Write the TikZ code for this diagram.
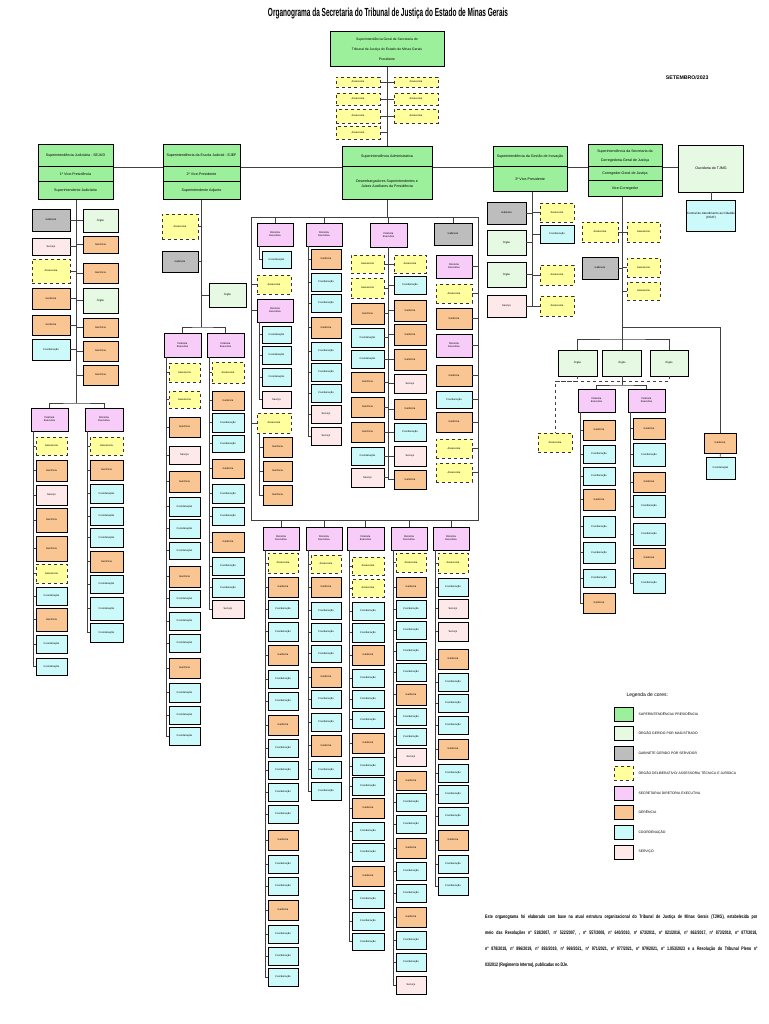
\documentclass[tikz,border=0pt]{standalone}
\usepackage{fontspec}
\setmainfont{Liberation Sans}
\usepackage{graphicx}
\definecolor{supgreen}{HTML}{9CF09C}
\definecolor{maggreen}{HTML}{E6F9E3}
\definecolor{gabgray}{HTML}{BDBDBD}
\definecolor{aseyellow}{HTML}{FFFF9E}
\definecolor{secpink}{HTML}{F8CCF8}
\definecolor{gerorange}{HTML}{F9C592}
\definecolor{coocyan}{HTML}{CCF9F9}
\definecolor{serrose}{HTML}{FDE9E9}

% short labels of the small boxes, one per kind
\newcommand{\lblsup}{Superintendência}
\newcommand{\lblmag}{Órgão}
\newcommand{\lblgab}{Gabinete}
\newcommand{\lblase}{Assessoria}
\newcommand{\lblsec}{Diretoria\\Executiva}
\newcommand{\lblger}{Gerência}
\newcommand{\lblcoo}{Coordenação}
\newcommand{\lblser}{Serviço}

% one column of boxes hanging off a vertical line
\newcommand{\orgcolumn}[6]{%
  \coordinate (#1-0) at (#4 |- #5.south);
  \foreach \kind/\ytop/\ybot [count=\n, remember=\n as \m (initially 0)] in {#6}{%
    \node[\kind, minimum width=#3-#2, minimum height=\ybot-\ytop]
      (#1-\n) at ({(#2+#3)/2},{(\ybot+\ytop)/2}) {\csname lbl\kind\endcsname};
    \draw[link] (#4 |- #1-\m) -- (#4 |- #1-\n) -- (#1-\n);
  }}

\begin{document}
\begin{tikzpicture}[x=1pt, y=-1pt,
  every node/.style={font=\fontsize{2.6}{3}\selectfont},
  link/.style={draw=black!75, line width=0.7pt},
  box/.style={draw=black, line width=0.8pt, inner sep=0.3pt, align=center},
  sup/.style={box, fill=supgreen, line width=1pt},
  mag/.style={box, fill=maggreen},
  gab/.style={box, fill=gabgray},
  ase/.style={box, fill=aseyellow, dashed, draw=black!80},
  sec/.style={box, fill=secpink},
  ger/.style={box, fill=gerorange},
  coo/.style={box, fill=coocyan},
  ser/.style={box, fill=serrose},
  head/.style={font=\fontsize{3.6}{4.6}\selectfont},
]
\useasboundingbox (0,0) rectangle (768,1024);

% Title
\node (title) at (388,13) {\resizebox{240pt}{8.5pt}{\bfseries Organograma da Secretaria do Tribunal de Justiça do Estado de Minas Gerais}};
\node[anchor=east, font=\bfseries\fontsize{5.2}{6}\selectfont] (date) at (712,78) {SETEMBRO/2023};

% Presidency
\node[sup, minimum width=114, minimum height=35, font=\fontsize{3.4}{10}\selectfont] (pres) at (387,49.5)
  {Superintendência Geral da Secretaria do\\Tribunal de Justiça do Estado de Minas Gerais\\Presidente};

% Superintendencies
\node[sup, head, minimum width=75, minimum height=22] (sejud) at (75.5,156) {Superintendência Judiciária - SEJUD};
\node[sup, head, minimum width=75, minimum height=15] (vp1) at (75.5,174.5) {1º Vice-Presidência};
\node[sup, head, minimum width=75, minimum height=18] (supjud) at (75.5,191) {Superintendente Judiciário};

\node[sup, head, minimum width=77, minimum height=22] (ejef) at (201.5,156) {Superintendência da Escola Judicial - EJEF};
\node[sup, head, minimum width=77, minimum height=15] (vp2) at (201.5,174.5) {2º Vice-Presidente};
\node[sup, head, minimum width=77, minimum height=18] (supadj) at (201.5,191) {Superintendente Adjunto};

\node[sup, head, minimum width=90, minimum height=20] (adm) at (387,157) {Superintendência Administrativa};
\node[sup, head, minimum width=90, minimum height=33] (desemb) at (387,183.5) {Desembargadores Superintendentes e\\Juízes Auxiliares da Presidência};

\node[sup, head, minimum width=74, minimum height=20] (inov) at (530,157) {Superintendência da Gestão de Inovação};
\node[sup, head, minimum width=74, minimum height=25] (vp3) at (530,179.5) {3º Vice-Presidente};

\node[sup, head, font=\fontsize{3.6}{9}\selectfont, minimum width=74, minimum height=22] (scgj) at (625,156) {Superintendência da Secretaria da\\Corregedoria-Geral de Justiça};
\node[sup, head, minimum width=74, minimum height=14] (cgj) at (625,174) {Corregedor-Geral de Justiça};
\node[sup, head, minimum width=74, minimum height=16] (vcg) at (625,189) {Vice-Corregedor};

\node[mag, head, minimum width=65, minimum height=47] (ouv) at (711,168.5) {Ouvidoria do TJMG};
\node[coo, font=\fontsize{3}{4}\selectfont, minimum width=49, minimum height=31] (ceat) at (711,215.5) {Central de Atendimento ao Cidadão\\(CEAT)};

% Main bar
\draw[link] (pres) -- (adm);
\draw[link] (sejud.south east) -- (ejef.south west);
\draw[link] (ejef.south east) -- (adm.south west);
\draw[link] (adm.south east) -- (inov.south west);
\draw[link] (inov.south east) -- (scgj.south west);
\draw[link] (scgj.south east) -- (ouv.west |- scgj.south east);
\draw[link] (ouv) -- (ceat);

% Committees round the presidency
\coordinate (tP) at (387,0);
\orgcolumn{pl}{336}{380}{tP}{pres}{ase/77/87, ase/93/105, ase/109/123, ase/126/139}
\orgcolumn{pr}{394}{438}{tP}{pres}{ase/77/87, ase/93/105, ase/109/123}

% SEJUD
\coordinate (tA) at (76.5,0);
\orgcolumn{sl}{32}{70}{tA}{supjud}{gab/209/231, ser/238/255, ase/259/283, ger/288/309, ger/315/335, coo/339/360}
\orgcolumn{sr}{83}{118}{tA}{supjud}{mag/209/232, ger/236/253, ger/263/283, mag/288/313, ger/318/337, ger/341/361, ger/365/385}
\coordinate (sjSplit) at (76.5,403);
\draw[link] (tA |- sr-7) -- (sjSplit);
\node[sec, minimum width=37, minimum height=23] (F1) at (49.5,419.5) {\lblsec};
\node[sec, minimum width=38, minimum height=23] (F2) at (104,419.5) {\lblsec};
\draw[link] (F1) |- (sjSplit) -| (F2);
\coordinate (tF1) at (33,0);
\coordinate (tF2) at (87,0);
\orgcolumn{fa}{36}{67}{tF1}{F1}{ase/437/455, ger/460/481, ser/485/505, ger/508/532, ger/536/561, ase/564/583, coo/587/605, ger/608/631, coo/635/653, coo/658/675}
\orgcolumn{fb}{90}{123}{tF2}{F2}{ase/437/455, ger/460/480, coo/484/503, coo/507/525, coo/528/547, ger/551/572, coo/575/593, coo/597/620, coo/623/642}

% EJEF
\coordinate (tB) at (201.5,0);
\orgcolumn{jl}{162}{198}{tB}{supadj}{ase/214/239, gab/251/272}
\orgcolumn{jr}{209}{246}{tB}{supadj}{mag/283/307}
\coordinate (ejSplit) at (201.5,327);
\draw[link] (tB |- jr-1) -- (ejSplit);
\node[sec, minimum width=37, minimum height=24] (G1) at (182.5,345) {\lblsec};
\node[sec, minimum width=37, minimum height=24] (G2) at (225.5,345) {\lblsec};
\draw[link] (G1) |- (ejSplit) -| (G2);
\coordinate (tG1) at (166,0);
\coordinate (tG2) at (209,0);
\orgcolumn{ga}{169}{200}{tG1}{G1}{ase/363/382, ase/391/408, ger/417/437, ser/446/464, ger/471/492, coo/497/516, coo/519/538, coo/542/559, ger/566/587, coo/590/607, coo/612/630, coo/634/652, ger/658/678, coo/683/702, coo/706/724, coo/727/745}
\orgcolumn{gb}{212}{244}{tG2}{G2}{ase/362/383, ger/391/410, coo/413/432, coo/435/452, ger/459/478, coo/484/503, coo/507/525, ger/532/552, coo/557/575, coo/578/597, ser/600/618}

% Administrative frame
\coordinate (fTL) at (251,217);
\coordinate (fTR) at (478,217);
\coordinate (fBR) at (478,520);
\coordinate (fBL) at (251,520);
\draw[link] (fTL) -- (fTR) -- (fBR) -- (fBL) -- cycle;
\draw[link] (desemb) -- (desemb |- fTL);
\node[sec, minimum width=36, minimum height=23] (E1) at (275,234.5) {\lblsec};
\node[sec, minimum width=36, minimum height=23] (E2) at (324,234.5) {\lblsec};
\node[sec, minimum width=37, minimum height=24] (E3) at (388.5,235) {\lblsec};
\node[gab, minimum width=38, minimum height=22] (E4) at (453,234) {\lblgab};
\foreach \e in {E1,E2,E3,E4} \draw[link] (\e) -- (\e |- fTL);
\node[ase, minimum width=34, minimum height=19] (aspre) at (274,284.5) {\lblase};
\node[sec, minimum width=36, minimum height=23] (E1b) at (275,310.5) {\lblsec};
\node[ase, minimum width=34, minimum height=20] (E1c) at (274,423) {\lblase};
\foreach \e in {aspre,E1b,E1c} \draw[link] (\e) -- (fTL |- \e);
\coordinate (tE1) at (259,0);
\orgcolumn{ea}{262}{291}{tE1}{E1}{coo/251/268}
\orgcolumn{eb}{262}{291}{tE1}{E1b}{coo/326/343, coo/346/364, coo/368/386, ser/391/408}
\orgcolumn{ec}{263}{292}{tE1}{E1c}{ger/437/457, ger/461/481, ger/485/505}
\coordinate (tE2) at (308,0);
\orgcolumn{ed}{311}{341}{tE2}{E2}{ger/249/269, coo/273/291, coo/294/312, ger/317/338, coo/342/360, coo/363/381, coo/384/402, ser/405/423, ser/427/445}
\coordinate (tE3) at (388.5,0);
\orgcolumn{ee}{351}{384}{tE3}{E3}{ase/255/273, ase/278/298, ger/303/324, coo/328/347, coo/350/368, ger/372/392, ger/397/417, ger/422/442, coo/447/465, ser/468/487}
\orgcolumn{ef}{394}{426}{tE3}{E3}{ase/255/273, coo/276/294, ger/300/321, ger/324/345, ger/349/370, ser/374/393, ger/399/419, coo/423/441, ser/446/466, ger/470/489}
\orgcolumn{eg}{436}{472}{fTR}{E4}{sec/255/278, ase/284/303, ger/308/329, sec/334/357, ger/365/386, coo/391/408, ger/412/432, ase/439/458, ase/463/482}

% Directorates below the frame
\node[sec, minimum width=36, minimum height=23] (D1) at (281,538.5) {\lblsec};
\node[sec, minimum width=36, minimum height=23] (D2) at (324,538.5) {\lblsec};
\node[sec, minimum width=37, minimum height=23] (D3) at (365.5,538.5) {\lblsec};
\node[sec, minimum width=36, minimum height=23] (D4) at (409,538.5) {\lblsec};
\node[sec, minimum width=36, minimum height=23] (D5) at (451,538.5) {\lblsec};
\foreach \d in {D1,D2,D3,D4,D5} \draw[link] (\d) -- (\d |- fBL);
\coordinate (tD1) at (265,0);
\coordinate (tD2) at (308,0);
\coordinate (tD3) at (349,0);
\coordinate (tD4) at (393,0);
\coordinate (tD5) at (435,0);
\orgcolumn{da}{268}{298}{tD1}{D1}{ase/553/573, ger/577/597, coo/600/618, coo/622/641, ger/645/665, coo/670/688, coo/692/710, ger/715/735, coo/739/757, coo/761/779, coo/783/801, coo/805/823, ger/830/850, coo/855/873, coo/877/895, ger/900/920, coo/925/943, coo/947/965, coo/968/986}
\orgcolumn{db}{311}{341}{tD2}{D2}{ase/555/573, ger/577/597, coo/602/619, coo/623/641, coo/645/662, ger/667/687, coo/690/708, coo/713/731, ger/735/756, coo/761/778, coo/782/800}
\orgcolumn{dc}{352}{384}{tD3}{D3}{ase/557/575, ase/579/597, coo/602/620, coo/623/642, ger/645/665, coo/669/687, coo/690/708, coo/711/728, ger/733/753, coo/757/775, coo/777/795, ger/798/818, coo/822/840, coo/843/861, ger/866/886, coo/890/908, coo/912/930, coo/933/950}
\orgcolumn{dd}{396}{426}{tD4}{D4}{ase/553/572, ger/577/597, coo/600/618, coo/621/639, coo/642/660, coo/663/681, ger/684/705, coo/708/725, coo/728/745, ser/748/766, ger/771/790, coo/793/811, coo/815/833, ger/838/858, coo/862/880, coo/884/902, ger/907/927, coo/931/949, coo/953/971, ser/976/994}
\orgcolumn{de}{438}{468}{tD5}{D5}{ase/553/573, coo/578/596, ser/599/618, ser/622/641, ger/649/669, coo/673/691, coo/694/712, coo/716/734, ger/739/759, coo/764/782, coo/785/803, coo/807/825, ger/830/850, coo/855/873, coo/877/895}

% Inovacao
\coordinate (tI) at (532,0);
\orgcolumn{il}{487}{526}{tI}{vp3}{gab/202/224, mag/230/255, mag/262/287, ser/295/317}
\orgcolumn{ir}{540}{574}{tI}{vp3}{ase/203/222, coo/225/243, ase/265/285, ase/296/316}

% Corregedoria
\coordinate (tC) at (622,0);
\orgcolumn{cl}{582}{618}{tC}{vcg}{ase/222/242, gab/257/279}
\orgcolumn{cr}{627}{660}{tC}{vcg}{ase/222/242, ase/258/277, ase/282/300}
\coordinate (cBr) at (622,327);
\coordinate (cSplit) at (622,339);
\draw[link] (tC |- cr-3) -- (cSplit);
\node[ger, minimum width=32, minimum height=20] (ouvG) at (720,443) {\lblger};
\node[coo, minimum width=29, minimum height=22] (ouvC) at (720.5,468) {\lblcoo};
\draw[link] (cBr) -| (ouvG);
\draw[link] (ouvG) -- (ouvC);
\node[mag, minimum width=39, minimum height=26] (cm1) at (577.5,363) {\lblmag};
\node[mag, minimum width=39, minimum height=26] (cm2) at (622,363) {\lblmag};
\node[mag, minimum width=38, minimum height=26] (cm3) at (669,363) {\lblmag};
\draw[link] (cm1) |- (cSplit) -| (cm3);
\draw[link] (cSplit) -- (cm2);
\coordinate (cSplit2) at (622,385);
\node[sec, minimum width=37, minimum height=23] (H1) at (596.5,400.5) {\lblsec};
\node[sec, minimum width=37, minimum height=23] (H2) at (646.5,400.5) {\lblsec};
\draw[link] (cm2) -- (cSplit2);
\draw[link] (H1) |- (cSplit2) -| (H2);
\coordinate (cDash) at (555,381);
\node[ase, minimum width=34, minimum height=19] (cyel) at (555,442.5) {\lblase};
\draw[link, dashed] (cm1) |- (cDash) -- (cyel);
\draw[link, dashed] (cm3) |- (cDash);
\coordinate (tH1) at (580,0);
\coordinate (tH2) at (630,0);
\orgcolumn{ha}{583}{615}{tH1}{H1}{ger/420/440, coo/445/463, coo/467/485, ger/489/510, coo/516/537, coo/542/563, coo/569/587, ger/593/613}
\orgcolumn{hb}{633}{665}{tH2}{H2}{ger/418/439, coo/443/466, ger/472/492, coo/495/517, coo/523/545, ger/548/568, coo/573/593}

% Legend
\node[anchor=west, font=\fontsize{5}{6}\selectfont] (legtitle) at (623,695) {Legenda de cores:};
\foreach \kind/\yy/\txt [count=\n] in {sup/714/{SUPERINTENDÊNCIA/ PRESIDÊNCIA}, mag/733/{ÓRGÃO GERIDO POR MAGISTRADO}, gab/753/{GABINETE GERIDO POR SERVIDOR}, ase/773/{ÓRGÃO DELIBERATIVO/ ASSESSORIA TÉCNICA E JURÍDICA}, sec/793/{SECRETARIA/ DIRETORIA EXECUTIVA}, ger/812/{GERÊNCIA}, coo/832/{COORDENAÇÃO}, ser/852/{SERVIÇO}} {
  \node[\kind, minimum width=19, minimum height=14] (leg-\n) at (623.5,\yy) {};
  \node[anchor=west, font=\fontsize{3.4}{4}\selectfont] (legtxt-\n) at (635,\yy) {\txt};
}

% Note
\node[anchor=north west, inner sep=0pt] (nota) at (485,915) {\scalebox{0.72}[1]{\parbox{378pt}{\fontsize{5}{16}\selectfont\bfseries
Este organograma foi elaborado com base na atual estrutura organizacional do Tribunal de Justiça de Minas Gerais (TJMG), estabelecida por\linebreak
meio das Resoluções nº 518/2007, nº 522/2007, , nº 557/2008, nº 640/2010, nº 673/2011, nº 821/2016, nº 862/2017, nº 873/2018, nº 877/2018,\linebreak
nº 878/2018, nº 896/2019, nº 893/2019, nº 969/2021, nº 971/2021, nº 977/2021, nº 979/2021, nº 1.053/2023 e a Resolução do Tribunal Pleno nº\linebreak
03/2012 (Regimento Interno), publicadas no DJe.}}};
\end{tikzpicture}
\end{document}
